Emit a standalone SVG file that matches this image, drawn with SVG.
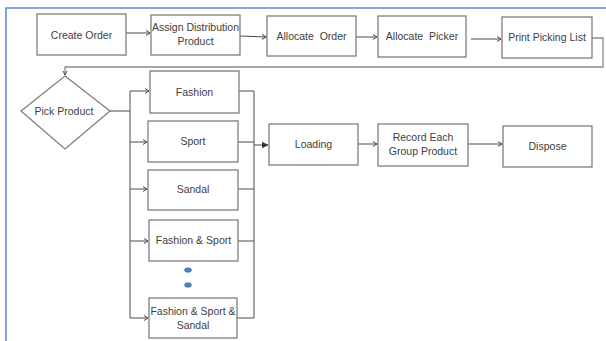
<svg xmlns="http://www.w3.org/2000/svg" width="606" height="341" viewBox="0 0 606 341">
<style>
.box{fill:#fff;stroke:#7f7f7f;stroke-width:1.3}
.t{font-family:"Liberation Sans",Arial,sans-serif;font-size:10.5px;fill:#404040;text-anchor:middle}
.c{fill:none;stroke:#4a4a4a;stroke-width:1}
.cg{fill:none;stroke:#8a8a8a;stroke-width:1.3}
.dot{fill:#4f81bd;stroke:#3a6591;stroke-width:0.5}
</style>
<defs>
<marker id="ah" markerWidth="8" markerHeight="8" refX="6" refY="4" orient="auto" markerUnits="userSpaceOnUse">
<path d="M2,1.5 L6,4 L2,6.5" fill="none" stroke="#4a4a4a" stroke-width="1"/>
</marker>
<marker id="ahb" markerWidth="8" markerHeight="8" refX="6" refY="4" orient="auto" markerUnits="userSpaceOnUse">
<path d="M0,1 L6,4 L0,7 Z" fill="#333" stroke="#333" stroke-width="0.5"/>
</marker>
</defs>
<rect width="606" height="341" fill="#fff"/>
<path d="M6,341 V8 H606" fill="none" stroke="#5b8fd6" stroke-width="1.6"/>

<g id="connectors">
<path class="c" d="M126,33 H150" marker-end="url(#ah)"/>
<path class="c" d="M240,36 L266,37" marker-end="url(#ah)"/>
<path class="c" d="M356,37 H377" marker-end="url(#ah)"/>
<path class="c" d="M471,39 H501" marker-end="url(#ah)"/>
<path class="cg" d="M592,38 H603 V67 H65 V75"/>
<path class="c" d="M63,71 L65,75 L67,71"/>
<path class="c" d="M110,111 H130"/>
<path class="c" d="M130,91 V318"/>
<path class="c" d="M130,91 H149" marker-end="url(#ah)"/>
<path class="c" d="M130,142 H147" marker-end="url(#ah)"/>
<path class="c" d="M130,189 H147" marker-end="url(#ah)"/>
<path class="c" d="M130,241 H148" marker-end="url(#ah)"/>
<path class="c" d="M130,318 H148" marker-end="url(#ah)"/>
<path class="c" d="M239,91 H254 V318 H237"/>
<path class="c" d="M238,142 H254"/>
<path class="c" d="M238,189 H254"/>
<path class="c" d="M238,241 H254"/>
<path class="c" d="M254,145 H268" marker-end="url(#ahb)"/>
<path class="c" d="M358,144 H377" marker-end="url(#ah)"/>
<path class="c" d="M468,144 H502" marker-end="url(#ah)"/>
</g>

<g id="create-order"><rect class="box" x="37" y="14" width="89" height="41"/><text class="t" x="81.5" y="38.5">Create Order</text></g>
<g id="assign-distribution"><rect class="box" x="151" y="15" width="89" height="40"/><text class="t" x="195.5" y="31">Assign Distribution</text><text class="t" x="195.5" y="45">Product</text></g>
<g id="allocate-order"><rect class="box" x="267" y="16" width="89" height="40"/><text class="t" x="311.5" y="40" xml:space="preserve">Allocate  Order</text></g>
<g id="allocate-picker"><rect class="box" x="378" y="16" width="88" height="41"/><text class="t" x="422" y="40" xml:space="preserve">Allocate  Picker</text></g>
<g id="print-picking-list"><rect class="box" x="502" y="17" width="90" height="41"/><text class="t" x="547" y="41">Print Picking List</text></g>

<g id="pick-product"><path class="box" d="M65,76 L110,111 L65,149 L21,111 Z"/><text class="t" x="64" y="114.5">Pick Product</text></g>

<g id="fashion"><rect class="box" x="150" y="71" width="89" height="42"/><text class="t" x="194.5" y="95.5">Fashion</text></g>
<g id="sport"><rect class="box" x="148" y="121" width="90" height="41"/><text class="t" x="193" y="144.5">Sport</text></g>
<g id="sandal"><rect class="box" x="148" y="170" width="90" height="40"/><text class="t" x="193" y="193">Sandal</text></g>
<g id="fashion-sport"><rect class="box" x="149" y="220" width="89" height="41"/><text class="t" x="193.5" y="244">Fashion &amp; Sport</text></g>
<g id="dots"><ellipse class="dot" cx="188" cy="270" rx="3.5" ry="2.3"/><ellipse class="dot" cx="188" cy="285" rx="3.5" ry="2.3"/></g>
<g id="fashion-sport-sandal"><rect class="box" x="149" y="298" width="88" height="40"/><text class="t" x="193" y="315">Fashion &amp; Sport &amp;</text><text class="t" x="193" y="329">Sandal</text></g>

<g id="loading"><rect class="box" x="269" y="124" width="89" height="41"/><text class="t" x="313.5" y="147.5">Loading</text></g>
<g id="record-each-group"><rect class="box" x="378" y="124" width="90" height="42"/><text class="t" x="423" y="141">Record Each</text><text class="t" x="423" y="155">Group Product</text></g>
<g id="dispose"><rect class="box" x="503" y="126" width="89" height="41"/><text class="t" x="547.5" y="149.5">Dispose</text></g>
</svg>
